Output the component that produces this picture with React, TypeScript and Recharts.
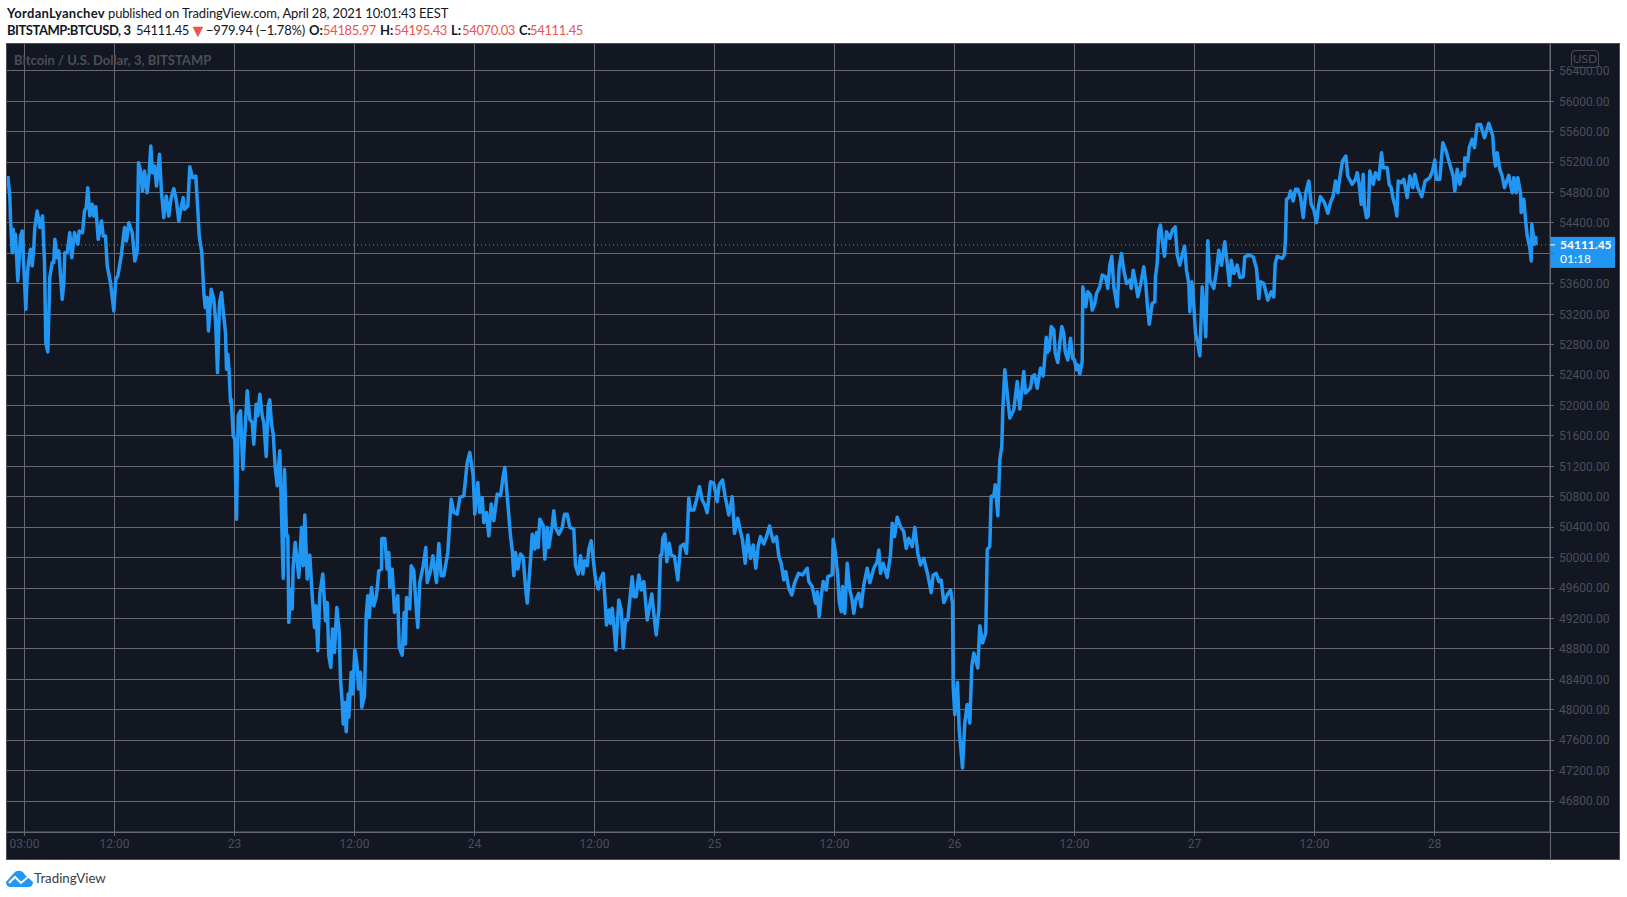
import { LineChart, Line, XAxis, YAxis, CartesianGrid, ReferenceLine } from 'recharts';

// hours since Apr 23 00:00
const hours = [
  -22.67, -22.47, -22.4, -22.23, -22.13, -22, -21.9, -21.67, -21.53, -21.4, -21.23, -21.07, -20.87, -20.73, -20.6, -20.4, -20.23, -20.07, -19.97, -19.73, -19.47, -19.2, -19, -18.87, -18.67, -18.47, -18.23, -18.07, -17.97, -17.73, -17.57, -17.23, -17.07, -16.97, -16.73, -16.47, -16.27, -16, -15.67, -15.53, -15.2, -15, -14.83, -14.67, -14.47, -14.23, -14.07, -13.87, -13.63, -13.3, -13.13, -12.9, -12.73, -12.4, -12.07, -11.87, -11.67, -11.33, -11, -10.8, -10.57, -10.23, -9.97, -9.73, -9.6, -9.4, -9.2, -9, -8.73, -8.53, -8.37, -8.2, -8, -7.8, -7.5, -7.3, -7.07, -6.83, -6.57, -6.33, -6.07, -5.83, -5.57, -5.37, -5.13, -5, -4.67, -4.47, -4.2, -3.87, -3.67, -3.53, -3.27, -3.07, -2.93, -2.73, -2.6, -2.33, -2.07, -1.9, -1.7, -1.5, -1.3, -1.13, -0.9, -0.8, -0.67, -0.53, -0.4, -0.33, -0.13,
  0.03, 0.2, 0.37, 0.6, 0.83, 1.1, 1.27, 1.53, 1.77, 1.93, 2.17, 2.33, 2.53, 2.77, 2.93, 3.17, 3.37, 3.53, 3.7, 3.87, 4.07, 4.27, 4.53, 4.7, 4.87, 5, 5.2, 5.33, 5.43, 5.6, 5.77, 5.87, 6.07, 6.43, 6.7, 6.87, 7.03, 7.27, 7.53, 7.77, 8, 8.13, 8.33, 8.53, 8.83, 9.1, 9.27, 9.43, 9.63, 9.8, 10, 10.23, 10.47, 10.6, 10.77, 10.87, 11.03, 11.17, 11.37, 11.43, 11.67, 11.83, 12.03, 12.27, 12.4, 12.6, 12.73, 13, 13.17, 13.33, 13.47, 13.7, 13.93, 14.2, 14.43, 14.7, 14.73, 15.03, 15.27, 15.43, 15.53, 15.77, 16, 16.33, 16.47, 16.77, 16.97, 17.1, 17.2, 17.53, 17.67, 17.93, 18.2, 18.33, 18.53, 18.87, 19.13, 19.27, 19.6, 19.83, 20.2, 20.43, 20.67, 20.93, 21.33, 21.67, 21.93, 22.27, 22.53, 22.93, 23.27, 23.53, 23.87,
  24.03, 24.33, 24.53, 24.77, 24.93, 25.2, 25.43, 25.67, 25.93, 26.27, 26.6, 26.87, 27.03, 27.27, 27.6, 27.77, 27.93, 28.1, 28.33, 28.6, 28.87, 29.1, 29.27, 29.6, 29.77, 30.03, 30.2, 30.37, 30.53, 30.87, 31.03, 31.27, 31.43, 31.77, 31.93, 32.1, 32.43, 32.77, 33, 33.27, 33.53, 33.93, 34.1, 34.37, 34.6, 34.83, 35, 35.27, 35.43, 35.67, 35.87, 36.1, 36.37, 36.6, 36.87, 37.03, 37.2, 37.43, 37.6, 37.77, 37.93, 38.13, 38.43, 38.67, 38.87, 39.1, 39.33, 39.53, 39.77, 39.93, 40.17, 40.43, 40.67, 40.93, 41.27, 41.5, 41.73, 41.93, 42.17, 42.43, 42.6, 42.73, 42.83, 43.03, 43.23, 43.47, 43.67, 44, 44.33, 44.6, 44.93, 45.2, 45.43, 45.6, 45.93, 46.2, 46.5, 46.77, 47.03, 47.27, 47.6, 47.93,
  48.27, 48.47, 48.8, 49.07, 49.43, 49.77, 50, 50.33, 50.6, 50.8, 51.07, 51.33, 51.6, 51.87, 52.13, 52.37, 52.6, 52.93, 53.2, 53.5, 53.87, 54.2, 54.43, 54.67, 54.93, 55.13, 55.43, 55.73, 56, 56.4, 56.8, 57.27, 57.43, 57.77, 58.1, 58.27, 58.47, 58.67, 58.87, 59.17, 59.33, 59.77, 59.87, 60.1, 60.33, 60.47, 60.67, 60.8, 61.03, 61.27, 61.53, 61.73, 61.93, 62.13, 62.43, 62.67, 62.93, 63.27, 63.53, 63.93, 64.27, 64.43, 64.6, 64.87, 65.27, 65.6, 65.77, 66, 66.27, 66.6, 66.93, 67.17, 67.43, 67.77, 68.03, 68.33, 68.6, 68.93, 69.33, 69.67, 69.87, 70.17, 70.43, 70.67, 70.93, 71.27, 71.6, 71.8,
  71.87, 72.03, 72.3, 72.47, 72.8, 73.03, 73.27, 73.53, 73.73, 73.93, 74.33, 74.53, 74.8, 75.13, 75.27, 75.53, 75.67, 75.93, 76.07, 76.33, 76.53, 76.73, 76.83, 77.03, 77.27, 77.53, 77.93, 78.27, 78.53, 78.93, 79.1, 79.6, 79.77, 80, 80.27, 80.6, 80.87, 81, 81.17, 81.27, 81.47, 81.67, 81.93, 82.07, 82.33, 82.53, 82.73, 82.93, 83.07, 83.33, 83.6, 83.8, 84, 84.2, 84.33, 84.53, 84.77, 84.83,
  85.13, 85.33, 85.6, 85.77, 86.03, 86.2, 86.53, 86.77, 87.1, 87.33, 87.53, 87.73, 87.93, 88.27, 88.47, 88.7, 88.93, 89.2, 89.53, 89.67, 89.87, 90.1, 90.33, 90.6, 90.93, 91.13, 91.27, 91.47, 91.77, 92.03, 92.1, 92.27, 92.43, 92.6, 92.77, 93, 93.2, 93.53, 93.8, 94.07, 94.27, 94.53, 94.77, 95, 95.2, 95.43, 95.53, 95.73, 95.93, 96.1, 96.33, 96.53, 96.77, 97, 97.13, 97.33, 97.53, 97.93, 98.2, 98.43, 98.7, 99.03, 99.27, 99.5, 99.67, 99.93, 100.27, 100.53, 100.87, 101.03, 101.43, 101.87, 102.2, 102.43, 102.6, 102.93, 103.33, 103.67, 103.93, 104.07, 104.27, 104.77,
  105, 105.1, 105.2, 105.43, 105.6, 105.87, 106.1, 106.33, 106.6, 106.87, 107.13, 107.43, 107.67, 107.93, 108.2, 108.4, 108.6, 109, 109.33, 109.6, 109.87, 110.1, 110.33, 110.53, 110.8, 111.13, 111.33, 111.77, 112.1, 112.27, 112.47, 112.67, 112.87, 113, 113.2, 113.37, 113.53, 113.87, 114.1, 114.43, 114.7, 114.87, 115.27, 115.47, 115.67, 115.87, 116.07, 116.23, 116.37, 116.67, 116.93, 117.27, 117.53, 117.83, 118.03, 118.33, 118.73, 119.07, 119.53, 119.8, 120.03, 120.2, 120.53, 120.83, 121.1, 121.53, 121.87, 122.03, 122.27, 122.53, 122.77, 123, 123.03, 123.33, 123.47, 123.77, 124, 124.27, 124.6, 125, 125.43, 125.83, 125.93, 126.1, 126.27, 126.53, 126.77, 127, 127.43, 127.77, 127.93, 128.17, 128.33, 128.6, 128.67, 128.93, 129.13, 129.27, 129.53, 129.67, 129.73, 130, 130.13, 130.15,
];

const prices = [
  55017, 54755, 54448, 54010, 54317, 54032, 54251, 53638, 53922, 54229, 54295, 53835, 53265, 53703, 53879, 54054, 53835, 54076, 54339, 54558, 54339, 54492, 53879, 52827, 52705, 53682, 53879, 53879, 54185, 53944, 54032, 53397, 53616, 54010, 54010, 54273, 53944, 54273, 54120, 54295, 54273, 54558, 54601, 54864, 54492, 54645, 54492, 54614, 54185, 54426, 54229, 54229, 53835, 53616, 53244, 53660, 53703, 53966, 54339, 54163, 54404, 54273, 53901, 54032, 55193, 55083, 54820, 55083, 54798, 55061, 55412, 55061, 55149, 54886, 55302, 54798, 54470, 54755, 54492, 54733, 54851, 54711, 54426, 54579, 54733, 54579, 54623, 55140, 54996, 55017, 54579, 54229, 54010, 53484, 53287, 53419, 52981, 53528, 53397, 53134, 52433, 53353, 53484, 53244, 52959, 52477, 52674, 52433, 52039, 52083, 51601,
  51558, 50506, 51864, 51930, 51163, 51777, 52193, 51820, 51777, 51492, 52018, 51864, 52149, 51864, 51777, 51330, 51996, 52074, 51755, 51623, 51185, 50944, 51404, 50594, 49727, 51163, 50287, 50287, 49149, 49587, 49324, 49893, 50200, 49740, 50397, 49893, 50559, 49718, 50033, 49499, 49083, 49368, 48776, 49521, 49784, 49171, 49411, 48711, 48557, 49061, 48754, 49346, 49017, 48404, 48097, 47813, 48097, 47712, 48207, 47900, 48492, 48207, 48789, 48579, 48273, 48492, 48032, 48185, 49236, 49499, 49214, 49609, 49368, 49499, 49828, 49849, 50252, 50252, 49849, 50068, 49609, 49849, 49280, 49499, 48820, 48719, 49280, 48864, 49477, 49324, 49893, 49828, 49280, 49083, 49674, 49893, 50134, 49674, 49828, 50025, 49674, 50187, 49762, 49762, 50068, 50769, 50594, 50572, 50791, 50813, 51251, 51382, 51076,
  50572, 50988, 50594, 50791, 50463, 50594, 50287, 50704, 50485, 50835, 50813, 51076, 51185, 50813, 50287, 50112, 49762, 50068, 49849, 50047, 50003, 49609, 49403, 49959, 50309, 50112, 50331, 50134, 50506, 50419, 49981, 50397, 50134, 50419, 50616, 50397, 50309, 50397, 50572, 50572, 50397, 50375, 49893, 49784, 50025, 49784, 49959, 49893, 50112, 50222, 49981, 49718, 49587, 49718, 49794, 49487, 49115, 49312, 49137, 49334, 49115, 48787, 49444, 49312, 48809, 49181, 49181, 49444, 49750, 49487, 49487, 49772, 49575, 49685, 49181, 49356, 49522, 49268, 48984, 49312, 50035, 50035, 50254, 50311, 49947, 50188, 50035, 50013, 49706, 50144, 50179, 50057, 50780, 50626, 50626, 50758, 50933, 50758, 50692, 50591, 50999, 50977,
  50736, 50955, 51020, 50801, 50561, 50801, 50320, 50517, 50342, 50232, 49925, 50298, 49991, 50166, 49860, 50153, 50276, 50179, 50276, 50416, 50210, 50276, 50013, 49925, 49706, 49816, 49597, 49509, 49663, 49794, 49772, 49860, 49685, 49619, 49400, 49553, 49225, 49487, 49685, 49575, 49750, 49772, 50241, 50057, 49750, 49422, 49290, 49619, 49268, 49925, 49575, 49466, 49268, 49444, 49531, 49356, 49641, 49860, 49671, 49860, 49947, 50101, 49794, 49925, 49741, 50035, 50451, 50276, 50530, 50407, 50342, 50123, 50254, 50144, 50398, 50057, 49904, 49991, 49772, 49540, 49772, 49794, 49685, 49706, 49409, 49509, 49575, 49400,
  48309, 47937, 48362, 47740, 47236, 47827, 48068, 47827, 48572, 48747, 48550, 49106, 48878, 49010, 50105, 50149, 50806, 50806, 50959, 50552, 51287, 51463, 51944, 52470, 52163, 51835, 51944, 52317, 51953, 52448, 52163, 52229, 52381, 52403, 52228, 52490, 52390, 52578, 52898, 52696, 52731, 53038, 52994, 52688, 52565, 52819, 53038, 52950, 52709, 52600, 52885, 52622, 52600, 52469, 52534, 52416, 52578, 53560,
  53298, 53495, 53451, 53254, 53341, 53473, 53560, 53714, 53692, 53539, 53845, 53963, 53560, 53298, 53823, 53998, 53779, 53604, 53648, 53539, 53779, 53626, 53429, 53582, 53823, 53604, 53341, 53070, 53341, 53363, 53692, 53867, 54305, 54371, 54174, 53963, 54283, 54196, 54305, 54349, 53977, 53845, 53977, 54095, 53779, 53604, 53232, 53626, 53320, 52947, 52816, 52654, 53560, 53210, 52903, 54165, 53648, 53539, 53779, 54042, 53845, 54152, 53867, 53582, 53911, 53736, 53845, 53683, 53692, 53955, 53977, 53955, 53801, 53407, 53626, 53604, 53385, 53495, 53429, 53867, 53963, 53933,
  53988, 54185, 54711, 54733, 54820, 54689, 54842, 54842, 54746, 54470, 54798, 54952, 54645, 54579, 54404, 54623, 54746, 54667, 54527, 54667, 54755, 54952, 54798, 54996, 55215, 55280, 55017, 54908, 54974, 55061, 54908, 54645, 55039, 54623, 54470, 54492, 55083, 54908, 55061, 54974, 55324, 55127, 55127, 54908, 54864, 54711, 54623, 54492, 54952, 54930, 54974, 54733, 55017, 54864, 55039, 54864, 54746, 54952, 54996, 55083, 55228, 54974, 54974, 55455, 55368, 55171, 55017, 54820, 55105, 54908, 55061, 55017, 55258, 55215, 55390, 55499, 55390, 55696, 55696, 55521, 55710, 55543, 55324, 55149, 55324, 55105, 55017, 54864, 55026, 54798, 54996, 54798, 54996, 54798, 54536, 54711, 54404, 54229, 54076, 53901, 54382, 54120, 54208, 54111.45,
];

const priceTicks = [46800, 47200, 47600, 48000, 48400, 48800, 49200, 49600, 50000, 50400, 50800, 51200, 51600, 52000, 52400, 52800, 53200, 53600, 54000, 54400, 54800, 55200, 55600, 56000, 56400];
const timeTicks = [-21, -12, 0, 12, 24, 36, 48, 60, 72, 84, 96, 108, 120];
const timeLabels = ['03:00', '12:00', '23', '12:00', '24', '12:00', '25', '12:00', '26', '12:00', '27', '12:00', '28'];

const lastPrice = 54111.45;
const countdown = '01:18';

const chartData = hours.map((hour, i) => ({ hour, price: prices[i] }));

const BG = '#131722';
const GRID = '#666873';
const FAINT = '#4b4e58';
const BLUE = '#2196F3';
const RED = '#ef5350';
const UI_FONT = 'Lato, "Open Sans", sans-serif';

function LastPriceTag({ viewBox }: any) {
  const y = viewBox.y;
  const x = 1544;
  return (
    <g>
      <rect x={x} y={y - 8} width={65} height={31} fill={BLUE} />
      <line x1={x} x2={x + 5} y1={y} y2={y} stroke="#fff" />
      <text x={x + 10} y={y + 4} fill="#fff" fontSize={12} fontWeight={700} fontFamily={UI_FONT}>{lastPrice.toFixed(2)}</text>
      <text x={x + 10} y={y + 18} fill="#fff" fontSize={12} fontFamily={UI_FONT}>{countdown}</text>
    </g>
  );
}

function Seg({ x, color, bold, spacing, size, children }: any) {
  return <span style={{ position: 'absolute', left: x, color: color || '#131722', fontWeight: bold ? 700 : 400, letterSpacing: spacing, fontSize: size, whiteSpace: 'nowrap' }}>{children}</span>;
}

export default function App() {
  return (
    <div style={{ position: 'absolute', left: 0, top: 0, width: 1627, height: 897, background: '#fff', overflow: 'hidden', fontFamily: UI_FONT }}>
      <div style={{ position: 'absolute', top: 4, left: 0, height: 18, width: 700, fontSize: 13, lineHeight: '18px' }}>
        <Seg x={7} bold spacing={0.3}>YordanLyanchev</Seg>
        <Seg x={108} spacing={-0.15}>published on TradingView.com, April 28, 2021 10:01:43 EEST</Seg>
      </div>
      <div style={{ position: 'absolute', top: 21, left: 0, height: 18, width: 700, fontSize: 13, lineHeight: '18px' }}>
        <Seg x={7} bold spacing={-0.45}>BITSTAMP:BTCUSD, 3</Seg>
        <Seg x={136} spacing={-0.35}>54111.45</Seg>
        <Seg x={189} color={RED} size={18}>▼</Seg>
        <Seg x={206} spacing={-0.2}>−979.94 (−1.78%)</Seg>
        <Seg x={309} bold>O:</Seg>
        <Seg x={323} color={RED} spacing={-0.35}>54185.97</Seg>
        <Seg x={380} bold>H:</Seg>
        <Seg x={394} color={RED} spacing={-0.35}>54195.43</Seg>
        <Seg x={451} bold>L:</Seg>
        <Seg x={462} color={RED} spacing={-0.35}>54070.03</Seg>
        <Seg x={519} bold>C:</Seg>
        <Seg x={530} color={RED} spacing={-0.35}>54111.45</Seg>
      </div>

      <div style={{ position: 'absolute', left: 6, top: 43, width: 1614, height: 817, background: BG }}>
        <LineChart width={1614} height={817} data={chartData} margin={{ top: 0, right: 0, bottom: 0, left: 0 }}>
          <CartesianGrid stroke={GRID} strokeWidth={1} shapeRendering="crispEdges" />
          <XAxis
            dataKey="hour"
            type="number"
            domain={[-22.85, 131.55]}
            ticks={timeTicks}
            tickFormatter={(v: number) => timeLabels[timeTicks.indexOf(v)]}
            height={28}
            axisLine={{ stroke: GRID }}
            tickLine={{ stroke: GRID, shapeRendering: 'crispEdges' }}
            tickSize={4}
            tickMargin={3}
            interval={0}
            tick={{ fill: FAINT, fontSize: 12, fontFamily: 'Roboto, sans-serif' }}
          />
          <YAxis
            orientation="right"
            type="number"
            domain={[46393, 56766]}
            ticks={priceTicks}
            tickFormatter={(v: number) => (v === 54000 ? '' : v.toFixed(2))}
            width={70}
            axisLine={{ stroke: GRID }}
            tickLine={{ stroke: GRID, shapeRendering: 'crispEdges' }}
            tickSize={4}
            tickMargin={5}
            interval={0}
            tick={{ fill: FAINT, fontSize: 12, fontFamily: 'Roboto, sans-serif' }}
          />
          <Line dataKey="price" type="linear" stroke={BLUE} strokeWidth={3.5} strokeLinejoin="round" dot={false} isAnimationActive={false} />
          <ReferenceLine y={lastPrice} stroke={BLUE} strokeDasharray="1 3" label={<LastPriceTag />} />
        </LineChart>
        <div style={{ position: 'absolute', left: 1544, top: 789, width: 1, height: 28, background: GRID }} />
        <div style={{ position: 'absolute', left: 1544, top: 789, width: 70, height: 1, background: GRID }} />
        <div style={{ position: 'absolute', left: 0, top: 0, width: 1614, height: 817, boxSizing: 'border-box', border: `1px solid ${FAINT}` }} />
        <div style={{ position: 'absolute', left: 8, top: 9, fontSize: 13, fontWeight: 700, color: FAINT, whiteSpace: 'nowrap' }}>Bitcoin / U.S. Dollar, 3, BITSTAMP</div>
        <div style={{ position: 'absolute', left: 1565, top: 7, width: 26, height: 16, lineHeight: '16px', textAlign: 'center', fontSize: 12, color: FAINT, border: `1px solid ${FAINT}`, borderRadius: 4, background: 'rgba(19,23,34,0.75)' }}>USD</div>
      </div>

      <svg style={{ position: 'absolute', left: 6, top: 870 }} width={27} height={17} viewBox="0 0 27 17">
        <path d="M0 12 L7 4 Q10 0 14 1 Q17 1 19 5 L27 12 Q27 17 22 17 L5 17 Q0 17 0 12 Z" fill={BLUE} />
        <path d="M3 13 L9 7 L15 13 L22 7" fill="none" stroke="#fff" strokeWidth={2} />
      </svg>
      <div style={{ position: 'absolute', left: 34, top: 869, fontSize: 13.3, color: '#3a3e48', lineHeight: '18px' }}>TradingView</div>
    </div>
  );
}
